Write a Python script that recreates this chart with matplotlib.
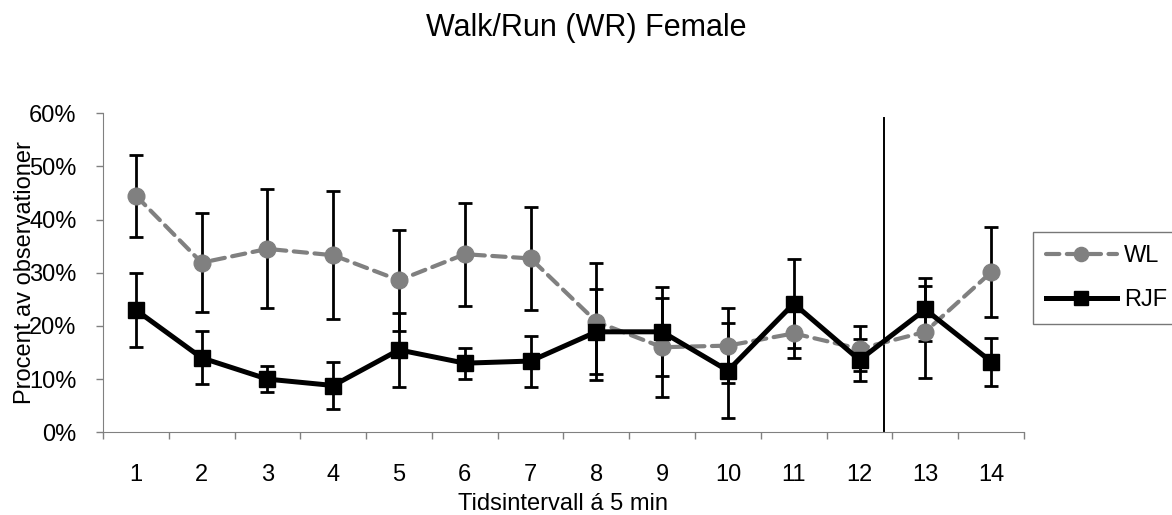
import matplotlib
matplotlib.use("Agg")
import matplotlib.pyplot as plt
from matplotlib.ticker import FuncFormatter, FixedLocator

plt.rcParams["font.family"] = ["Liberation Sans", "DejaVu Sans"]

intervals = list(range(1, 15))
wl = [44.5, 31.9, 34.5, 33.3, 28.6, 33.5, 32.7, 20.8, 16.0, 16.3, 18.6, 15.7, 18.9, 30.1]
wl_err = [7.7, 9.3, 11.2, 12.0, 9.5, 9.7, 9.7, 11.0, 9.3, 7.0, 4.6, 4.2, 8.6, 8.5]
rjf = [23.0, 14.0, 10.0, 8.8, 15.5, 13.0, 13.4, 18.9, 18.9, 11.6, 24.2, 13.6, 23.1, 13.3]
rjf_err = [7.0, 5.0, 2.5, 4.5, 7.0, 2.9, 4.8, 8.0, 8.4, 9.0, 8.4, 3.9, 5.9, 4.5]
split_at = 12.37

fig = plt.figure(figsize=(11.72, 5.15), dpi=100)
ax = fig.add_axes([0.0879, 0.1606, 0.7858, 0.6194])

# error bars first, then lines with markers on top
ax.errorbar(intervals, wl, yerr=wl_err, fmt="none", ecolor="black",
            elinewidth=2, capsize=5, capthick=2, zorder=2)
ax.errorbar(intervals, rjf, yerr=rjf_err, fmt="none", ecolor="black",
            elinewidth=2, capsize=5, capthick=2, zorder=2)
ax.plot(intervals, wl, color="#808080", linestyle=(0, (3.2, 1.8)), linewidth=3,
        dash_capstyle="round", marker="o", markersize=12, label="WL", zorder=3)
ax.plot(intervals, rjf, color="black", linewidth=3.6, marker="s",
        markersize=11.5, label="RJF", zorder=4)

ax.axvline(split_at, ymin=0.005, ymax=0.985, color="black", linewidth=1.4, zorder=1)

ax.set_xlim(0.5, 14.5)
ax.set_ylim(0, 60)
ax.set_yticks(range(0, 61, 10))
ax.yaxis.set_major_formatter(FuncFormatter(lambda v, p: f"{v:.0f}%"))

ax.xaxis.set_major_locator(FixedLocator([i + 0.5 for i in range(0, 15)]))
ax.xaxis.set_major_formatter(FuncFormatter(lambda v, p: ""))
ax.xaxis.set_minor_locator(FixedLocator(intervals))
ax.xaxis.set_minor_formatter(FuncFormatter(lambda v, p: f"{v:.0f}"))
ax.tick_params(axis="x", which="major", direction="out", length=5, width=1, color="#808080")
ax.tick_params(axis="x", which="minor", length=0, pad=23, labelsize=17)
ax.tick_params(axis="y", direction="out", length=5, width=1, color="#808080",
               pad=14, labelsize=17)

for side in ["top", "right"]:
    ax.spines[side].set_visible(False)
for side in ["left", "bottom"]:
    ax.spines[side].set_color("#808080")

ax.set_xlabel("Tidsintervall á 5 min", fontsize=17, labelpad=5)
# the label sits over the tick labels, as in the source chart
ax.set_ylabel("Procent av observationer", fontsize=17)
ax.yaxis.set_label_coords(-0.073, 0.5)

fig.text(0.5, 1 - 28 / 515, "Walk/Run (WR) Female", ha="center", va="center", fontsize=22)

leg = fig.legend(loc="upper left", bbox_to_anchor=(1033 / 1172, 1 - 232 / 515),
                 borderaxespad=0, fontsize=17, frameon=True, fancybox=False,
                 handlelength=3.0, handletextpad=0.3, borderpad=0.55,
                 labelspacing=0.95, markerscale=0.85)
leg.get_frame().set_edgecolor("#555555")
leg.get_frame().set_linewidth(1)

fig.savefig("out.png", dpi=100)
